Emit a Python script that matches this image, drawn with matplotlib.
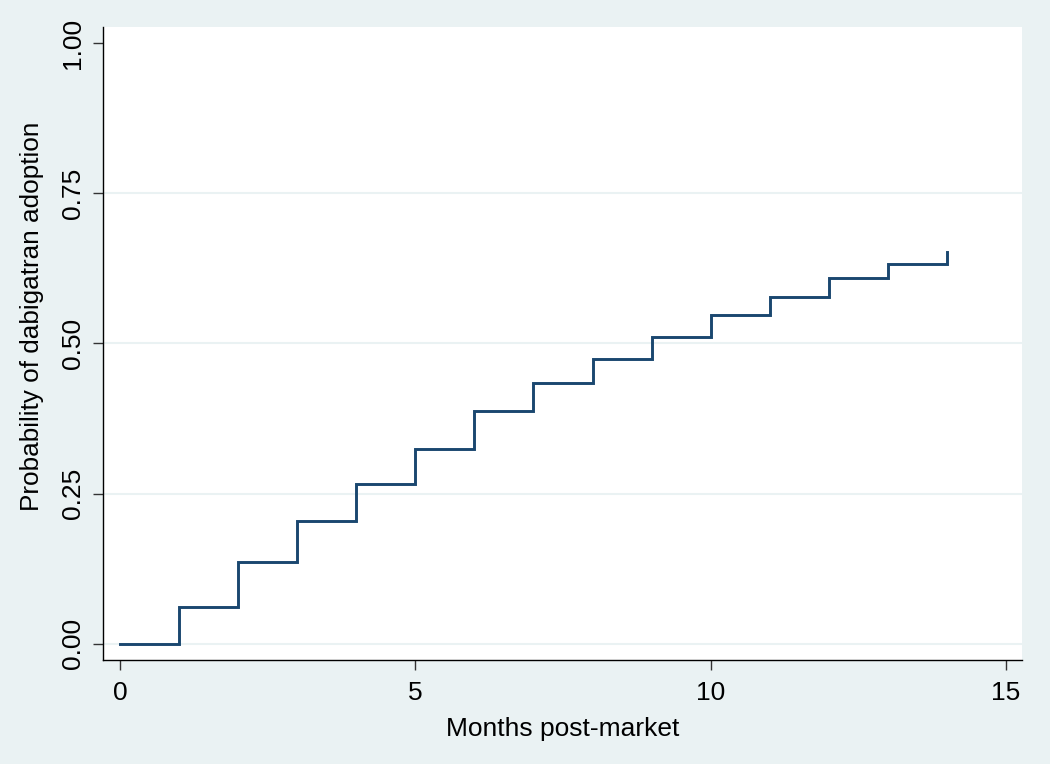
import matplotlib
matplotlib.use("Agg")
import matplotlib.pyplot as plt

# Kaplan-Meier style failure curve
months = [0, 1, 2, 3, 4, 5, 6, 7, 8, 9, 10, 11, 12, 13, 14, 14]
prob = [0.0, 0.061, 0.136, 0.204, 0.266, 0.325, 0.387, 0.435,
        0.474, 0.510, 0.547, 0.578, 0.609, 0.633, 0.633, 0.652]
yticks = [0, 0.25, 0.5, 0.75, 1.0]
ylabels = ["0.00", "0.25", "0.50", "0.75", "1.00"]
xticks = [0, 5, 10, 15]

bg = "#EAF2F3"
plt.rcParams['font.family'] = ['Liberation Sans', 'DejaVu Sans']

fig = plt.figure(figsize=(10.5, 7.64), dpi=100, facecolor=bg)
ax = fig.add_axes([0.0981, 0.1361, 0.8752, 0.8286])
ax.set_facecolor("white")

for g in [0, 0.25, 0.5, 0.75]:
    ax.axhline(g, color=bg, lw=1.5, zorder=1)

ax.plot(months, prob, drawstyle="steps-post", color="#1a476f", lw=2.1,
        zorder=3, solid_joinstyle="miter")

ax.set_xlim(-0.288, 15.27)
ax.set_ylim(-0.027, 1.027)
ax.set_xticks(xticks)
ax.set_yticks(yticks)
ax.set_yticklabels(ylabels, rotation=90, va="center")

for s in ["top", "right"]:
    ax.spines[s].set_visible(False)
for s in ["left", "bottom"]:
    ax.spines[s].set_color("black")
    ax.spines[s].set_linewidth(1.0)

ax.tick_params(axis="both", direction="out", length=7, width=1,
               color="#333333", labelsize=19)
ax.tick_params(axis="y", pad=6)
ax.tick_params(axis="x", pad=8)

ax.set_xlabel("Months post-market", fontsize=19, labelpad=9)
ax.set_ylabel("Probability of dabigatran adoption", fontsize=18.8)
ax.yaxis.set_label_coords(-0.064, 0.543)

fig.savefig("out.png", dpi=100, facecolor=bg)
